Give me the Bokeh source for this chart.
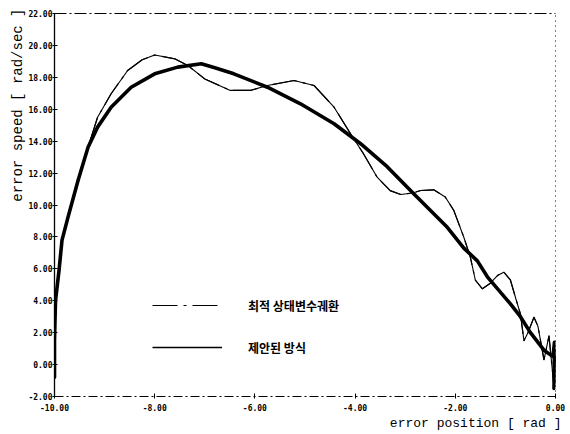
from bokeh.plotting import figure
from bokeh.models import (Range1d, FixedTicker, PrintfTickFormatter, LinearAxis,
                          Title, Legend, LegendItem)
from bokeh.embed import file_html
from bokeh.resources import INLINE

# ---------------- data ----------------
x_ticks = [-10, -8, -6, -4, -2, 0]
y_ticks = [-2, 0, 2, 4, 6, 8, 10, 12, 14, 16, 18, 20, 22]

series_names = ["최적 상태변수궤환", "제안된 방식"]

# proposed method (thick, chattering)
prop_x = [-10.0, -10.0, -9.98, -9.91, -9.85, -9.73, -9.53, -9.33, -9.14, -8.87,
          -8.47, -8.0, -7.54, -7.07, -6.8, -6.42, -5.75, -5.09, -4.42, -3.89,
          -3.36, -2.83, -2.16, -1.83, -1.56, -1.36, -0.9, -0.7, -0.5, -0.23,
          -0.05, -0.02, -0.03, 0.0, -0.01, 0.0]
prop_y = [-0.8, 1.5, 4.0, 5.9, 7.8, 9.24, 11.54, 13.62, 14.88, 16.13,
          17.38, 18.22, 18.64, 18.85, 18.6, 18.22, 17.38, 16.34, 15.09, 13.84,
          12.4, 10.7, 8.6, 7.3, 6.5, 5.5, 3.8, 3.0, 2.0, 0.9,
          0.5, 1.4, -1.5, 1.0, -1.2, 0.3]

# optimal state feedback (thin)
opt_x = [-10.0, -10.0, -9.98, -9.91, -9.85, -9.73, -9.53, -9.33, -9.14, -8.87,
         -8.54, -8.25, -8.0, -7.6, -7.34, -7.0, -6.49, -6.09, -5.75, -5.22,
         -4.82, -4.42, -4.09, -3.83, -3.56, -3.3, -3.09, -2.85, -2.69, -2.43,
         -2.2, -2.03, -1.83, -1.7, -1.6, -1.46, -1.3, -1.15, -1.03, -0.9,
         -0.78, -0.7, -0.63, -0.55, -0.43, -0.35, -0.23, -0.13, -0.03, 0.0]
opt_y = [-0.8, 1.5, 4.0, 5.9, 7.8, 9.24, 11.54, 13.62, 15.5, 16.97,
         18.43, 19.1, 19.4, 19.16, 18.74, 17.9, 17.18, 17.18, 17.49, 17.8,
         17.49, 16.13, 14.46, 13.2, 11.74, 10.9, 10.66, 10.75, 10.91, 10.95,
         10.5, 9.66, 7.98, 6.73, 5.3, 4.75, 5.1, 5.6, 5.79, 5.3,
         4.0, 3.18, 1.5, 2.0, 2.97, 2.4, 0.3, 1.8, -1.4, 0.5]

x_label = "error position [ rad ]"
y_label = "error speed [ rad/sec ]"

# ---------------- figure ----------------
p = figure(width=570, height=434, output_backend="svg", toolbar_location=None,
           x_range=Range1d(-10, 0), y_range=Range1d(-2, 22),
           min_border_left=54, min_border_right=15, min_border_top=13, min_border_bottom=38,
           x_axis_location=None, y_axis_location=None)
p.grid.visible = False
p.outline_line_color = None
p.background_fill_color = "white"
p.border_fill_color = "white"

tick_font = "DejaVu Sans Mono"

xa = LinearAxis(ticker=FixedTicker(ticks=x_ticks), formatter=PrintfTickFormatter(format="%.2f"))
ya = LinearAxis(ticker=FixedTicker(ticks=y_ticks), formatter=PrintfTickFormatter(format="%.2f"))
for ax in (xa, ya):
    ax.major_label_text_font = tick_font
    ax.major_label_text_font_style = "bold"
    ax.major_label_text_font_size = "8px"
    ax.major_label_text_color = "black"
    ax.major_tick_in = 3
    ax.major_tick_out = 2
    ax.minor_tick_line_color = None
    ax.axis_line_color = "black"
    ax.major_tick_line_color = "black"
ya.major_label_standoff = 0
xa.major_label_standoff = 5
ya.axis_line_width = 1.3
xa.axis_line_dash = "9 3 2 3"
p.add_layout(xa, "below")
p.add_layout(ya, "left")

top = LinearAxis(ticker=FixedTicker(ticks=[]), major_label_text_font_size="0px",
                 major_tick_in=0, major_tick_out=0, minor_tick_line_color=None,
                 axis_line_dash="12 3 2 3", axis_line_color="black")
right = LinearAxis(ticker=FixedTicker(ticks=[]), major_label_text_font_size="0px",
                   major_tick_in=0, major_tick_out=0, minor_tick_line_color=None,
                   axis_line_dash="1 4", axis_line_color="black")
p.add_layout(top, "above")
p.add_layout(right, "right")

# legend sample renderers (drawn beneath the visible curves)
leg_opt = p.line(opt_x, opt_y, line_color="black", line_width=1.2, line_dash="25 6 3 6")
leg_prop = p.line(prop_x, prop_y, line_color="black", line_width=1.4)

# curves
p.line(opt_x, opt_y, line_color="black", line_width=1.1, line_join="round")
p.line(prop_x, prop_y, line_color="black", line_width=3.6, line_join="round", line_cap="round")

legend = Legend(items=[LegendItem(label=series_names[0], renderers=[leg_opt]),
                       LegendItem(label=series_names[1], renderers=[leg_prop])],
                location=(98, 39), padding=0, margin=0, spacing=22,
                glyph_width=70, glyph_height=20, label_height=20, label_standoff=26,
                border_line_color=None, background_fill_alpha=0,
                label_text_font="Noto Sans CJK KR", label_text_font_style="bold",
                label_text_font_size="12px", label_text_color="black",
                label_text_baseline="middle")
p.add_layout(legend, "center")

# axis titles
p.add_layout(Title(text=y_label, align="right", text_font="Liberation Mono",
                   text_font_size="14px", text_font_style="normal", text_color="black",
                   standoff=0, offset=-5), "left")
p.add_layout(Title(text=x_label, align="right", text_font="Liberation Mono",
                   text_font_size="13px", text_font_style="normal", text_color="black",
                   standoff=0, offset=-6), "below")

open("out.html", "w").write(file_html(p, INLINE))
